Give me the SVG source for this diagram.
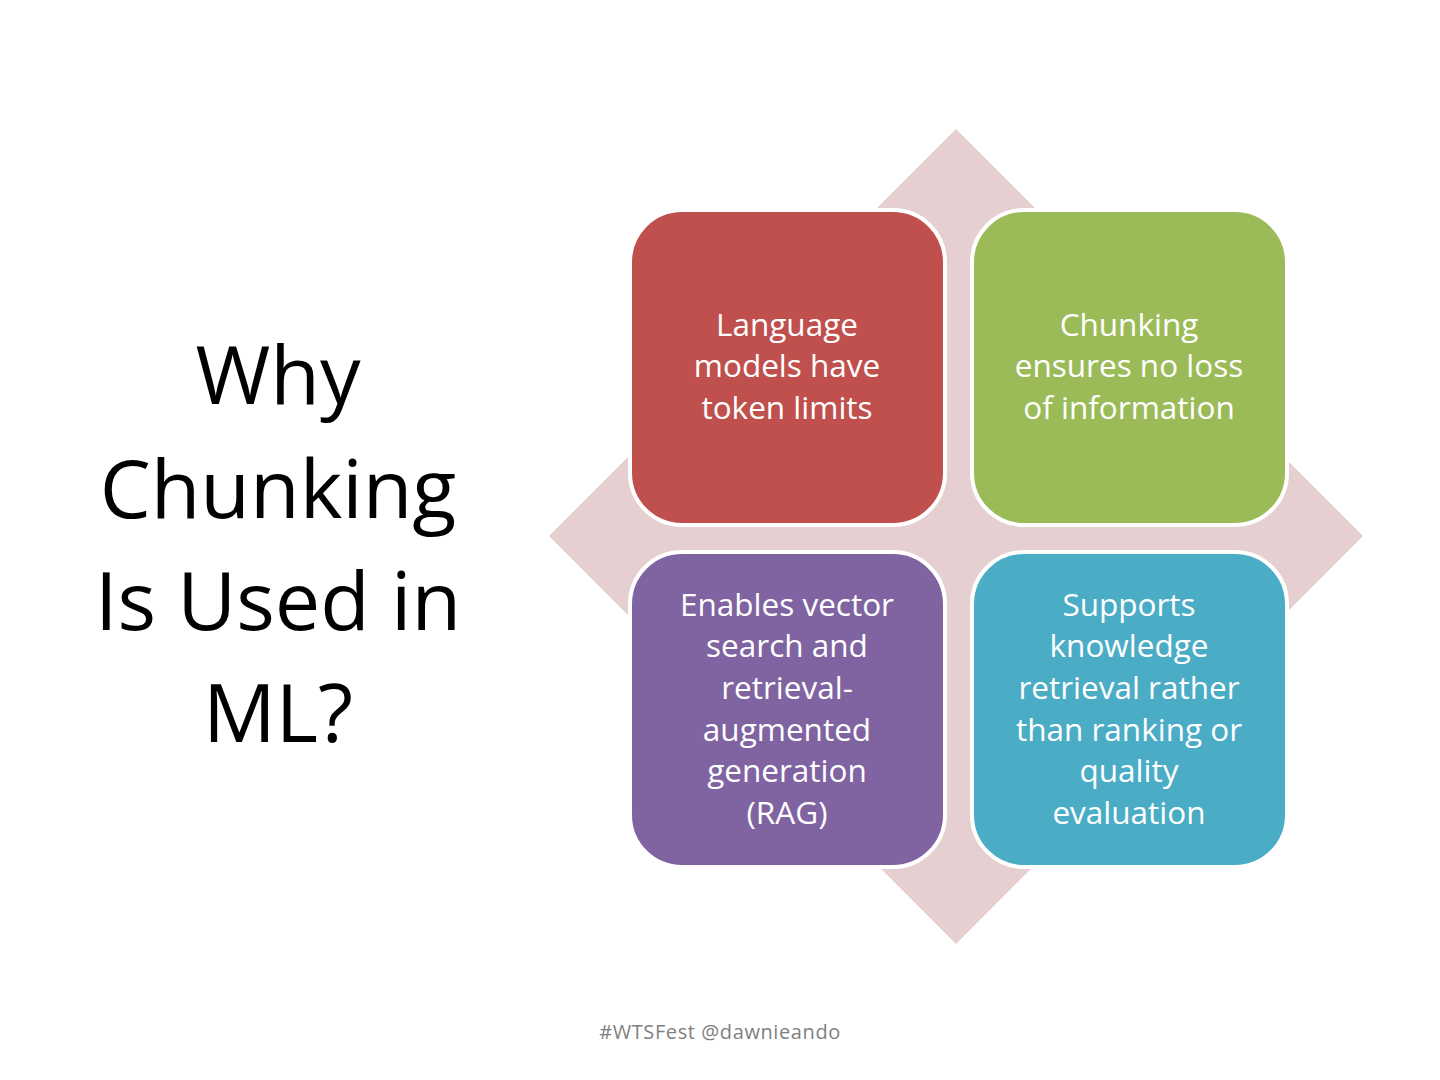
<svg xmlns="http://www.w3.org/2000/svg" width="1440" height="1080" viewBox="0 0 1440 1080">
<style>
.box{stroke:#ffffff;stroke-width:4}
.bt{font-family:"Open Sans","Liberation Sans",sans-serif;font-size:31.5px;fill:#ffffff;text-anchor:middle}
.title{font-family:"Open Sans","Liberation Sans",sans-serif;font-size:81px;fill:#000000;text-anchor:middle}
.foot{font-family:"Open Sans","Liberation Sans",sans-serif;font-size:20px;letter-spacing:0.6px;fill:#7f7f7f;text-anchor:middle}
</style>
<rect width="1440" height="1080" fill="#ffffff"/>
<g id="title">
<text class="title" x="278" y="404">Why</text>
<text class="title" x="278" y="518">Chunking</text>
<text class="title" x="278" y="630">Is Used in</text>
<text class="title" x="278" y="742">ML?</text>
</g>
<g id="diamond"><polygon points="956,129 1363,536 956,944 549,536" fill="#e6cfd0"/></g>
<g id="connectors"></g>
<g id="n1">
<rect class="box" x="630" y="210" width="315" height="315" rx="52" fill="#c0504d"/>
<text class="bt" x="787" y="336">Language</text>
<text class="bt" x="787" y="377">models have</text>
<text class="bt" x="787" y="419">token limits</text>
</g>
<g id="n2">
<rect class="box" x="972" y="210" width="315" height="315" rx="52" fill="#9bbb59"/>
<text class="bt" x="1129" y="336">Chunking</text>
<text class="bt" x="1129" y="377">ensures no loss</text>
<text class="bt" x="1129" y="419">of information</text>
</g>
<g id="n3">
<rect class="box" x="630" y="552" width="315" height="315" rx="52" fill="#8064a2"/>
<text class="bt" x="787" y="616">Enables vector</text>
<text class="bt" x="787" y="657">search and</text>
<text class="bt" x="787" y="699">retrieval-</text>
<text class="bt" x="787" y="741">augmented</text>
<text class="bt" x="787" y="782">generation</text>
<text class="bt" x="787" y="824">(RAG)</text>
</g>
<g id="n4">
<rect class="box" x="972" y="552" width="315" height="315" rx="52" fill="#4bacc6"/>
<text class="bt" x="1129" y="616">Supports</text>
<text class="bt" x="1129" y="657">knowledge</text>
<text class="bt" x="1129" y="699">retrieval rather</text>
<text class="bt" x="1129" y="741">than ranking or</text>
<text class="bt" x="1129" y="782">quality</text>
<text class="bt" x="1129" y="824">evaluation</text>
</g>
<g id="footer"><text class="foot" x="720" y="1039">#WTSFest @dawnieando</text></g>
</svg>
